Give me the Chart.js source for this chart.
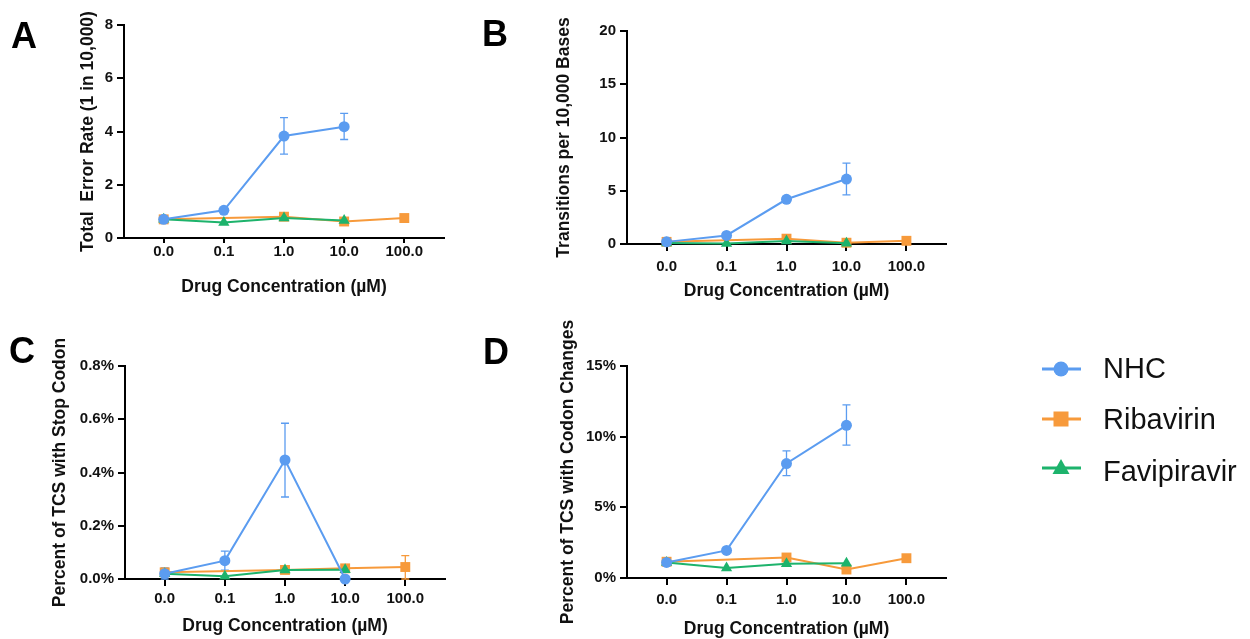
<!DOCTYPE html>
<html><head><meta charset="utf-8">
<script src="https://cdn.jsdelivr.net/npm/chart.js@4.4.1/dist/chart.umd.min.js"></script>
<style>
body{margin:0;background:#fff;width:1250px;height:639px;overflow:hidden;position:relative;font-family:"Liberation Sans",Arial,sans-serif;}
canvas{position:absolute;}
.lbl{position:absolute;font-weight:bold;font-size:36px;line-height:36px;color:#000;}
.leg{position:absolute;font-size:29px;line-height:29px;color:#111;left:1103px;}
svg{position:absolute;left:0;top:0;}
</style></head><body>
<canvas id="cA"></canvas><canvas id="cB"></canvas><canvas id="cC"></canvas><canvas id="cD"></canvas>
<div class="lbl" style="left:11px;top:18px">A</div>
<div class="lbl" style="left:482px;top:15.5px">B</div>
<div class="lbl" style="left:9px;top:333px">C</div>
<div class="lbl" style="left:483px;top:334px">D</div>
<svg width="1250" height="639" style="pointer-events:none">
  <line x1="1042" y1="369" x2="1081" y2="369" stroke="#5b9cf0" stroke-width="3"/>
  <circle cx="1061" cy="369" r="7.5" fill="#5b9cf0"/>
  <line x1="1042" y1="419" x2="1081" y2="419" stroke="#f79a3b" stroke-width="3"/>
  <rect x="1053.5" y="411.5" width="15" height="15" fill="#f79a3b"/>
  <line x1="1042" y1="468" x2="1081" y2="468" stroke="#1db36c" stroke-width="3"/>
  <polygon points="1061,459 1069.5,474 1052.5,474" fill="#1db36c"/>
</svg>
<div class="leg" style="top:353.5px">NHC</div>
<div class="leg" style="top:405px">Ribavirin</div>
<div class="leg" style="top:456.5px">Favipiravir</div>
<script>
const categories = ['0.0', '0.1', '1.0', '10.0', '100.0'];
const seriesNames = ['NHC', 'Ribavirin', 'Favipiravir'];
const colors = ['#5b9cf0', '#f79a3b', '#1db36c'];

// Panel A: Total Error Rate (1 in 10,000)
const aNHC = [0.70, 1.04, 3.83, 4.18, null];
const aNHCLow = [null, null, 3.15, 3.70, null];
const aNHCHigh = [null, null, 4.52, 4.68, null];
const aRib = [0.70, null, 0.80, 0.62, 0.75];
const aFav = [0.70, 0.58, 0.75, 0.66, null];
const aYTicks = [0, 2, 4, 6, 8];
const aYLabels = ['0', '2', '4', '6', '8'];

// Panel B: Transitions per 10,000 Bases
const bNHC = [0.20, 0.80, 4.20, 6.10, null];
const bNHCLow = [null, null, 3.95, 4.62, null];
const bNHCHigh = [null, null, 4.45, 7.60, null];
const bRib = [0.20, null, 0.50, 0.12, 0.30];
const bFav = [0.10, 0.05, 0.28, 0.06, null];
const bYTicks = [0, 5, 10, 15, 20];
const bYLabels = ['0', '5', '10', '15', '20'];

// Panel C: Percent of TCS with Stop Codon (%)
const cNHC = [0.020, 0.069, 0.447, 0.000, null];
const cNHCLow = [0.000, 0.033, 0.308, null, null];
const cNHCHigh = [0.042, 0.105, 0.585, null, null];
const cRib = [0.025, null, 0.034, 0.040, 0.045];
const cRibLow = [null, null, null, null, 0.000];
const cRibHigh = [null, null, null, null, 0.088];
const cFav = [0.020, 0.010, 0.034, 0.035, null];
const cYTicks = [0, 0.2, 0.4, 0.6, 0.8];
const cYLabels = ['0.0%', '0.2%', '0.4%', '0.6%', '0.8%'];

// Panel D: Percent of TCS with Codon Changes (%)
const dNHC = [1.10, 1.95, 8.10, 10.80, null];
const dNHCLow = [null, null, 7.25, 9.40, null];
const dNHCHigh = [null, null, 9.00, 12.25, null];
const dRib = [1.15, null, 1.45, 0.60, 1.40];
const dFav = [1.10, 0.70, 1.00, 1.05, null];
const dYTicks = [0, 5, 10, 15];
const dYLabels = ['0%', '5%', '10%', '15%'];

const FONT = '"Liberation Sans", Arial, sans-serif';

const errorBarPlugin = {
  id: 'errorBars',
  beforeDatasetsDraw(chart) {
    const ctx = chart.ctx;
    const xs = chart.scales.x, ys = chart.scales.y;
    chart.data.datasets.forEach(ds => {
      if (!ds.errLow) return;
      ctx.save();
      ctx.strokeStyle = ds.borderColor;
      ctx.lineWidth = 1.3;
      ds.errLow.forEach((lo, i) => {
        const hi = ds.errHigh[i];
        if (lo == null || hi == null) return;
        const px = xs.getPixelForValue(i);
        const y1 = ys.getPixelForValue(lo), y2 = ys.getPixelForValue(hi);
        ctx.beginPath();
        ctx.moveTo(px, y1); ctx.lineTo(px, y2);
        ctx.moveTo(px - 4, y1); ctx.lineTo(px + 4, y1);
        ctx.moveTo(px - 4, y2); ctx.lineTo(px + 4, y2);
        ctx.stroke();
      });
      ctx.restore();
    });
  }
};

function mkDataset(idx, vals, lo, hi) {
  return {
    label: seriesNames[idx],
    data: vals.map((v, i) => ({ x: i, y: v })),
    borderColor: colors[idx],
    backgroundColor: colors[idx],
    borderWidth: 2,
    pointStyle: ['circle', 'rect', 'triangle'][idx],
    pointRadius: [5.5, 7, 6.5][idx],
    pointBorderWidth: 0,
    spanGaps: true,
    tension: 0,
    clip: false,
    order: [0, 2, 1][idx],
    errLow: lo || null,
    errHigh: hi || null
  };
}

function panel(p) {
  const cv = document.getElementById(p.id);
  cv.style.left = p.cx + 'px';
  cv.style.top = p.cy + 'px';
  cv.width = p.cw; cv.height = p.ch;
  const half = 17.5 / 2;
  new Chart(cv, {
    type: 'line',
    data: { datasets: p.datasets },
    options: {
      responsive: false, animation: false, devicePixelRatio: 1,
      layout: { padding: { left: 0, top: p.T - p.cy, right: p.cx + p.cw - p.R, bottom: 0 } },
      plugins: { legend: { display: false }, tooltip: { enabled: false } },
      scales: {
        x: {
          type: 'linear', min: -0.66, max: 4.66,
          afterBuildTicks: s => { s.ticks = categories.map((c, i) => ({ value: i })); },
          afterFit: s => { s.height = p.cy + p.ch - p.B; },
          grid: { display: true, drawOnChartArea: false, drawTicks: true, tickLength: p.xTick, color: '#000', lineWidth: 2 },
          border: { display: true, color: '#000', width: 2 },
          ticks: { padding: p.xLabelY - p.B - p.xTick - 7.5, color: '#111', autoSkip: false, maxRotation: 0,
                   font: { family: FONT, size: 15, weight: 'bold', lineHeight: 1 },
                   callback: v => categories[v] },
          title: { display: true, text: 'Drug Concentration (µM)', color: '#111',
                   font: { family: FONT, size: 17.5, weight: 'bold', lineHeight: 1 },
                   padding: { top: 0, bottom: p.cy + p.ch - p.xTitleY - half } }
        },
        y: {
          min: p.yTicks[0], max: p.yTicks[p.yTicks.length - 1],
          afterBuildTicks: s => { s.ticks = p.yTicks.map(v => ({ value: v })); },
          afterFit: s => { s.width = p.L - p.cx; },
          grid: { display: true, drawOnChartArea: false, drawTicks: true, tickLength: 7, color: '#000', lineWidth: 2 },
          border: { display: true, color: '#000', width: 2 },
          ticks: { padding: 4, color: '#111',
                   font: { family: FONT, size: 15, weight: 'bold', lineHeight: 1 },
                   callback: (v) => { const k = p.yTicks.indexOf(v); return k >= 0 ? p.yLabels[k] : ''; } },
          title: { display: true, text: p.yTitle, color: '#111',
                   font: { family: FONT, size: 17.5, weight: 'bold', lineHeight: 1 },
                   padding: { top: p.yTitleX - p.cx - half, bottom: 0 } }
        }
      }
    },
    plugins: [errorBarPlugin]
  });
}

panel({ id: 'cA', cx: 0, cy: 0, cw: 470, ch: 310, L: 124, T: 25, R: 444, B: 238,
  yTitleX: 88.5, xTitleY: 287, xLabelY: 252, xTick: 5, yTitle: 'Total  Error Rate (1 in 10,000)',
  yTicks: aYTicks, yLabels: aYLabels,
  datasets: [mkDataset(0, aNHC, aNHCLow, aNHCHigh), mkDataset(1, aRib), mkDataset(2, aFav)] });

panel({ id: 'cB', cx: 500, cy: 0, cw: 470, ch: 310, L: 627, T: 31, R: 946, B: 244,
  yTitleX: 564, xTitleY: 291.5, xLabelY: 266.7, xTick: 7, yTitle: 'Transitions per 10,000 Bases',
  yTicks: bYTicks, yLabels: bYLabels,
  datasets: [mkDataset(0, bNHC, bNHCLow, bNHCHigh), mkDataset(1, bRib), mkDataset(2, bFav)] });

panel({ id: 'cC', cx: 0, cy: 320, cw: 470, ch: 319, L: 125, T: 366, R: 445, B: 579,
  yTitleX: 60.5, xTitleY: 626, xLabelY: 599, xTick: 7, yTitle: 'Percent of TCS with Stop Codon',
  yTicks: cYTicks, yLabels: cYLabels,
  datasets: [mkDataset(0, cNHC, cNHCLow, cNHCHigh), mkDataset(1, cRib, cRibLow, cRibHigh), mkDataset(2, cFav)] });

panel({ id: 'cD', cx: 500, cy: 320, cw: 470, ch: 319, L: 627, T: 366, R: 946, B: 578,
  yTitleX: 568, xTitleY: 629, xLabelY: 600, xTick: 7, yTitle: 'Percent of TCS with Codon Changes',
  yTicks: dYTicks, yLabels: dYLabels,
  datasets: [mkDataset(0, dNHC, dNHCLow, dNHCHigh), mkDataset(1, dRib), mkDataset(2, dFav)] });
</script>
</body></html>
